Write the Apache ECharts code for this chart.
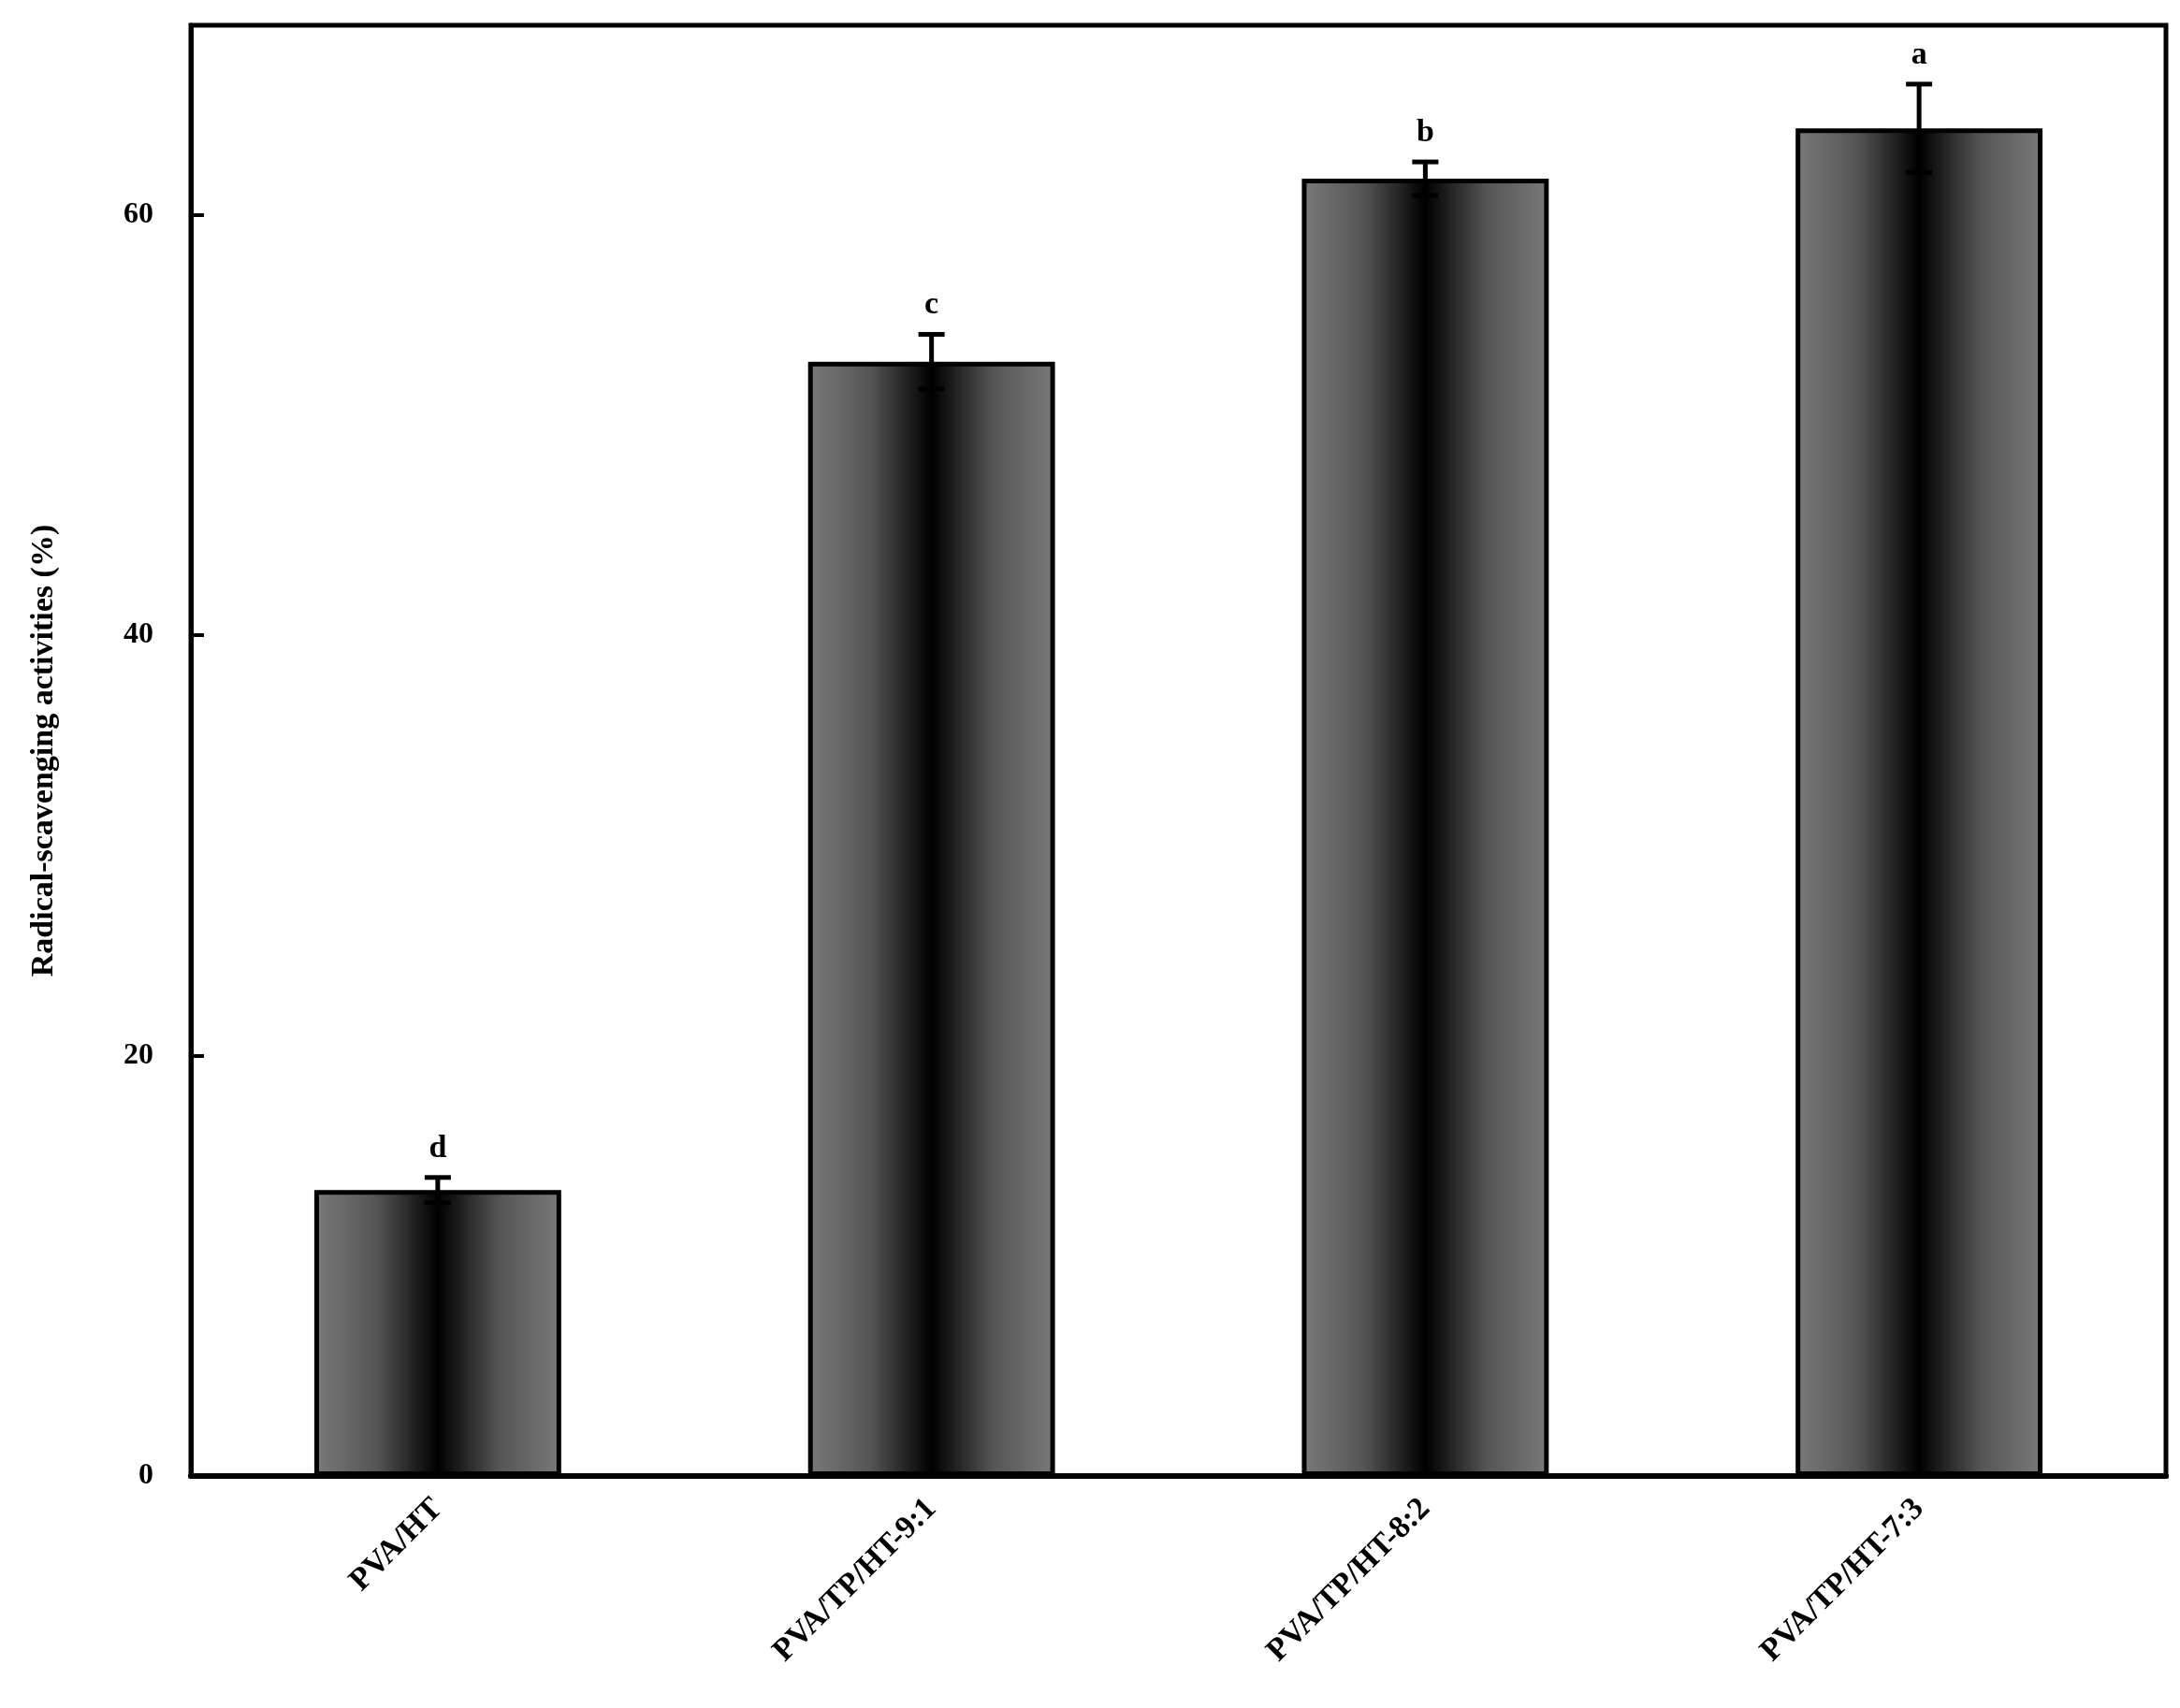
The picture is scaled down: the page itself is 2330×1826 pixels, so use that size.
<!DOCTYPE html>
<html>
<head>
<meta charset="utf-8">
<script src="https://cdn.jsdelivr.net/npm/echarts@6/dist/echarts.min.js"></script>
<style>html,body{margin:0;padding:0;background:#fff}#chart{width:2330px;height:1826px}</style>
</head>
<body>
<div id="chart"></div>
<script>
var categories = ['PVA/HT', 'PVA/TP/HT-9:1', 'PVA/TP/HT-8:2', 'PVA/TP/HT-7:3'];
var values = [13.6, 53.0, 61.7, 64.1];
var errors = [0.6, 1.3, 0.8, 2.1];
var letters = ['d', 'c', 'b', 'a'];

var font = '"Liberation Serif", "Times New Roman", serif';
var chart = echarts.init(document.getElementById('chart'));

var barFill = new echarts.graphic.LinearGradient(0, 0, 1, 0, [
  { offset: 0, color: '#7a7a7a' },
  { offset: 0.25, color: '#555' },
  { offset: 0.5, color: '#000' },
  { offset: 0.75, color: '#555' },
  { offset: 1, color: '#7a7a7a' }
]);

var option = {
  animation: false,
  grid: { left: 204, right: 15, top: 27, bottom: 248, show: true, borderColor: '#000', borderWidth: 5 },
  xAxis: {
    type: 'category',
    data: categories,
    axisLine: { lineStyle: { color: '#000', width: 6 } },
    axisTick: { show: false },
    axisLabel: { rotate: 45, color: '#000', fontFamily: font, fontWeight: 'bold', fontSize: 34, margin: 30 }
  },
  yAxis: {
    type: 'value',
    min: 0, max: 69, interval: 20,
    name: 'Radical-scavenging activities (%)',
    nameLocation: 'middle', nameGap: 140,
    nameTextStyle: { color: '#000', fontFamily: font, fontWeight: 'bold', fontSize: 34 },
    splitLine: { show: false },
    axisLine: { show: true, lineStyle: { color: '#000', width: 5 } },
    axisTick: { show: true, inside: true, length: 14, lineStyle: { width: 4, color: '#000' } },
    axisLabel: { showMaxLabel: false, color: '#000', fontFamily: font, fontWeight: 'bold', fontSize: 32, margin: 40 }
  },
  series: [
    {
      type: 'bar',
      data: values,
      barWidth: '50%',
      itemStyle: { color: barFill, borderColor: '#000', borderWidth: 5 }
    },
    {
      type: 'custom',
      z: 10,
      data: values.map(function (v, i) { return [i, v - errors[i], v + errors[i], letters[i]]; }),
      renderItem: function (params, api) {
        var lo = api.coord([api.value(0), api.value(1)]);
        var hi = api.coord([api.value(0), api.value(2)]);
        var x = lo[0], w = 14;
        var st = { stroke: '#000', lineWidth: 5 };
        return {
          type: 'group',
          children: [
            { type: 'line', shape: { x1: x, y1: lo[1], x2: x, y2: hi[1] }, style: st },
            { type: 'line', shape: { x1: x - w, y1: lo[1], x2: x + w, y2: lo[1] }, style: st },
            { type: 'line', shape: { x1: x - w, y1: hi[1], x2: x + w, y2: hi[1] }, style: st },
            { type: 'text', style: { text: api.value(3), x: x, y: hi[1] - 14, align: 'center', verticalAlign: 'bottom',
              fill: '#000', font: 'bold 34px ' + font } }
          ]
        };
      }
    }
  ]
};
chart.setOption(option);
</script>
</body>
</html>
